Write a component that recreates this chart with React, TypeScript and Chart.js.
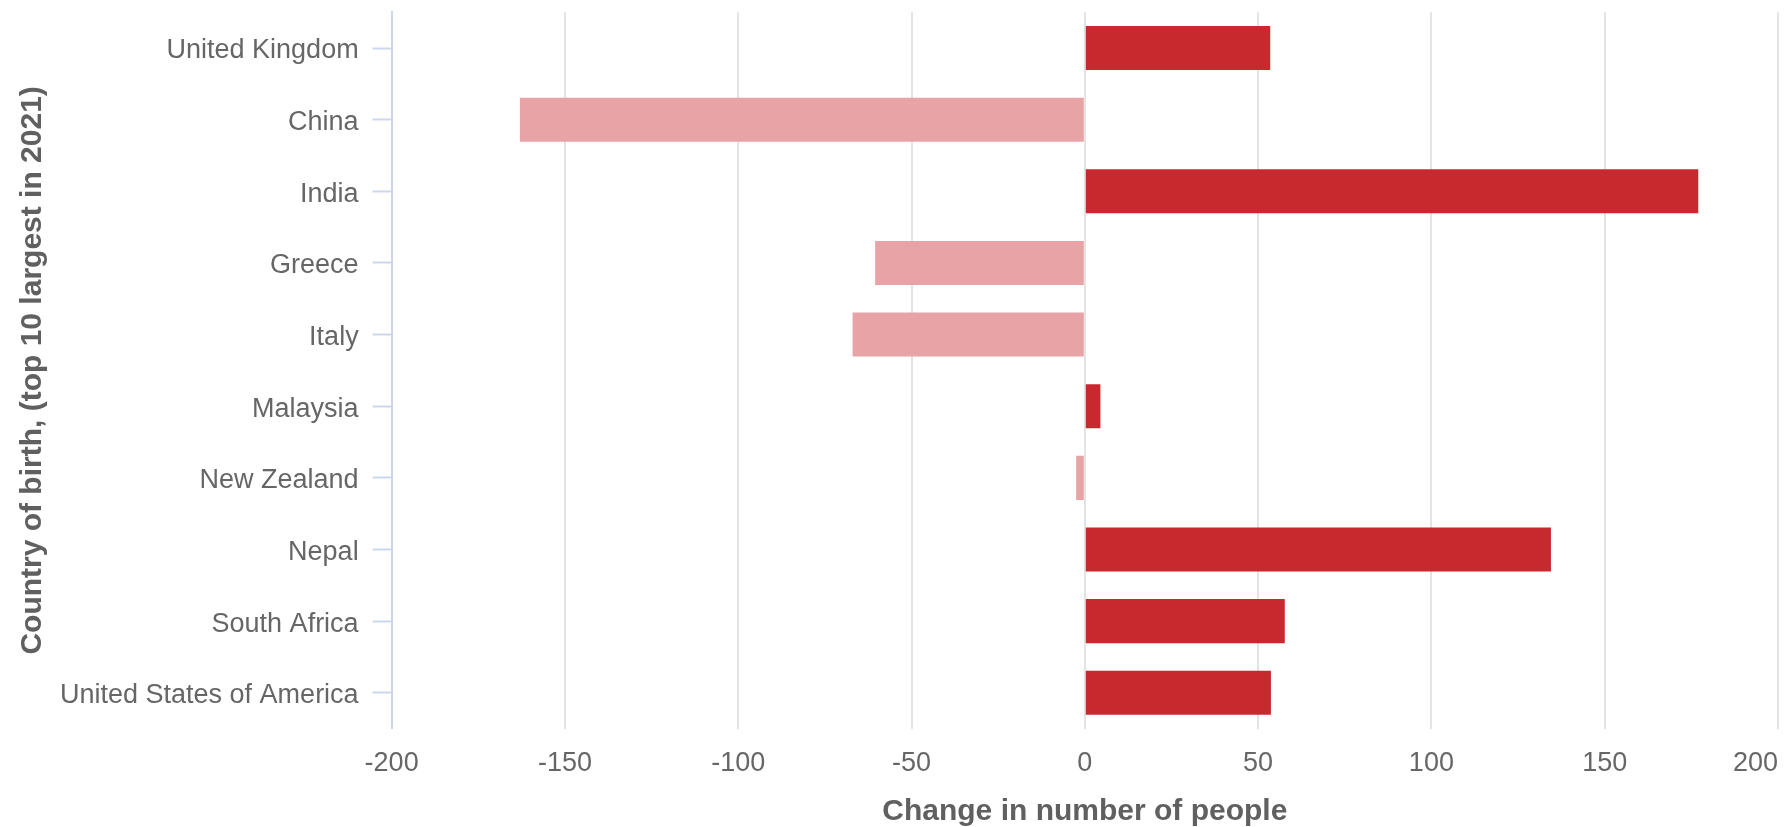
import React, { useEffect, useRef } from "react";
import { Chart, registerables } from "chart.js";

Chart.register(...registerables);

const countries = [
  "United Kingdom",
  "China",
  "India",
  "Greece",
  "Italy",
  "Malaysia",
  "New Zealand",
  "Nepal",
  "South Africa",
  "United States of America",
];

const changeValues = [53.5, -163, 177, -60.5, -67, 4.5, -2.5, 134.5, 57.7, 53.7];

const xTickValues = [-200, -150, -100, -50, 0, 50, 100, 150, 200];
const xTickLabels = ["-200", "-150", "-100", "-50", "0", "50", "100", "150", "200"];

const xTitle = "Change in number of people";
const yTitle = "Country of birth, (top 10 largest in 2021)";

const POS_COLOR = "#c8292f";
const NEG_COLOR = "#e8a3a6";

export default function App() {
  const canvasRef = useRef<HTMLCanvasElement | null>(null);

  useEffect(() => {
    if (!canvasRef.current) return;
    const font = "'Liberation Sans', Arial, Helvetica, sans-serif";
    const chart = new Chart(canvasRef.current, {
      type: "bar",
      data: {
        labels: countries,
        datasets: [
          {
            data: changeValues,
            backgroundColor: changeValues.map((v) => (v < 0 ? NEG_COLOR : POS_COLOR)),
            borderWidth: 0,
            categoryPercentage: 1,
            barPercentage: 0.615,
          },
        ],
      },
      options: {
        indexAxis: "y",
        animation: false,
        responsive: true,
        maintainAspectRatio: false,
        layout: { padding: 0 },
        plugins: {
          legend: { display: false },
          tooltip: { enabled: false },
        },
        scales: {
          x: {
            type: "linear",
            min: -200,
            max: 200,
            afterBuildTicks: (scale: any) => {
              scale.ticks = xTickValues.map((v) => ({ value: v }));
            },
            grid: {
              color: "#e3e3e3",
              lineWidth: 2,
              drawTicks: true,
              tickLength: 17,
              tickColor: "rgba(0,0,0,0)",
            },
            border: { display: false },
            ticks: {
              padding: 2,
              color: "#666666",
              font: { family: font, size: 27 },
              maxRotation: 0,
              autoSkip: false,
              callback: (value: any) => {
                const i = xTickValues.indexOf(Number(value));
                const label = i >= 0 ? xTickLabels[i] : String(value);
                return i === xTickValues.length - 1
                  ? label + "\u00A0\u00A0\u00A0\u00A0\u00A0\u00A0"
                  : label;
              },
            },
            title: {
              display: true,
              text: xTitle,
              color: "#606060",
              font: { family: font, size: 30, weight: "bold" },
              padding: { top: 12, bottom: 5 },
            },
          },
          y: {
            type: "category",
            grid: {
              offset: false,
              drawOnChartArea: false,
              drawTicks: true,
              tickLength: 19,
              tickColor: "#ccd6eb",
              tickWidth: 2,
            },
            border: { display: true, color: "#ccd6eb", width: 2 },
            ticks: {
              padding: 14,
              labelOffset: 3,
              color: "#666666",
              font: { family: font, size: 27 },
              autoSkip: false,
            },
            title: {
              display: true,
              text: yTitle,
              color: "#606060",
              font: { family: font, size: 30, weight: "bold" },
              padding: { top: 15, bottom: -5 },
            },
          },
        },
      },
    });
    return () => chart.destroy();
  }, []);

  return (
    <div
      style={{
        position: "fixed",
        left: 0,
        top: 0,
        width: 1787,
        height: 827,
        overflow: "hidden",
        background: "#ffffff",
      }}
    >
      <div style={{ position: "absolute", left: 0, top: -18, width: 1825, height: 853 }}>
        <canvas ref={canvasRef} />
      </div>
    </div>
  );
}
